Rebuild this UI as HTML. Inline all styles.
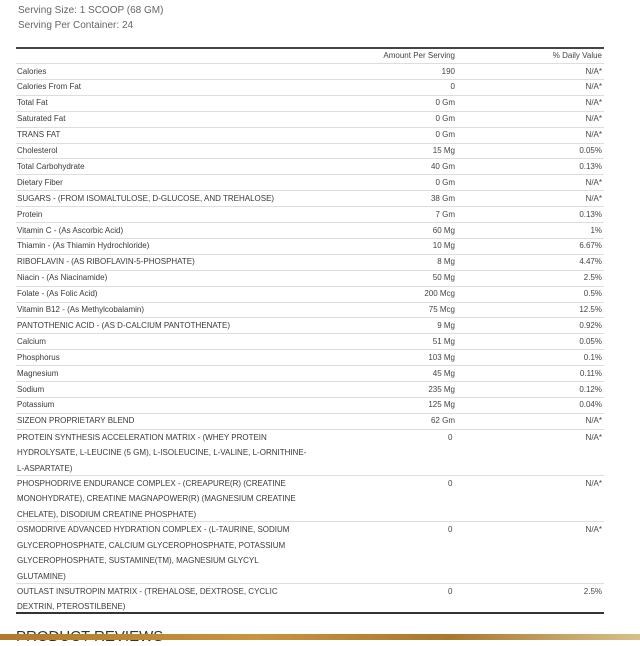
<!DOCTYPE html>
<html><head><meta charset="utf-8"><style>
body{margin:0;width:640px;height:640px;overflow:hidden;background:#fff;font-family:"Liberation Sans",sans-serif;color:#444;position:relative}
.t{position:absolute;font-size:8px;line-height:15.7px;white-space:nowrap}
.l{left:17px;color:#3a3a3a}
.a{right:185px;text-align:right}
.d{right:38px;text-align:right}
.hr{position:absolute;left:16px;width:588px;height:1px;background:#ddd}
</style></head><body>
<div class="t" style="left:18px;top:3px;font-size:10px;color:#666">Serving Size: 1 SCOOP (68 GM)</div>
<div class="t" style="left:18px;top:18px;font-size:10px;color:#666">Serving Per Container: 24</div>
<div style="position:absolute;left:16px;top:47px;width:588px;height:2px;background:#444"></div>
<div class="t a" style="top:48px">Amount Per Serving</div>
<div class="t d" style="top:48px">% Daily Value</div>
<div id="rows"></div>
<div style="position:absolute;left:16px;top:612px;width:588px;height:1.5px;background:#333"></div>
<div class="t" style="left:16px;top:628px;font-size:15px;line-height:18px;color:#333">PRODUCT REVIEWS</div>
<div style="position:absolute;left:0;top:634px;width:640px;height:6px;background:linear-gradient(90deg,#b07a2a,#c89440 40%,#a8782e 70%,#d8c08a)"></div>
<script>
var r=[["Calories","190","N/A*"],["Calories From Fat","0","N/A*"],["Total Fat","0 Gm","N/A*"],["Saturated Fat","0 Gm","N/A*"],["TRANS FAT","0 Gm","N/A*"],["Cholesterol","15 Mg","0.05%"],["Total Carbohydrate","40 Gm","0.13%"],["Dietary Fiber","0 Gm","N/A*"],["SUGARS  - (FROM ISOMALTULOSE, D-GLUCOSE, AND TREHALOSE)","38 Gm","N/A*"],["Protein","7 Gm","0.13%"],["Vitamin C  - (As Ascorbic Acid)","60 Mg","1%"],["Thiamin  - (As Thiamin Hydrochloride)","10 Mg","6.67%"],["RIBOFLAVIN  - (AS RIBOFLAVIN-5-PHOSPHATE)","8 Mg","4.47%"],["Niacin  - (As Niacinamide)","50 Mg","2.5%"],["Folate  - (As Folic Acid)","200 Mcg","0.5%"],["Vitamin B12  - (As Methylcobalamin)","75 Mcg","12.5%"],["PANTOTHENIC ACID  - (AS D-CALCIUM PANTOTHENATE)","9 Mg","0.92%"],["Calcium","51 Mg","0.05%"],["Phosphorus","103 Mg","0.1%"],["Magnesium","45 Mg","0.11%"],["Sodium","235 Mg","0.12%"],["Potassium","125 Mg","0.04%"],["SIZEON PROPRIETARY BLEND","62 Gm","N/A*"]];
var m=[[["PROTEIN SYNTHESIS ACCELERATION MATRIX  - (WHEY PROTEIN","HYDROLYSATE, L-LEUCINE (5 GM), L-ISOLEUCINE, L-VALINE, L-ORNITHINE-","L-ASPARTATE)"],"0","N/A*"],[["PHOSPHODRIVE ENDURANCE COMPLEX  - (CREAPURE(R) (CREATINE","MONOHYDRATE), CREATINE MAGNAPOWER(R) (MAGNESIUM CREATINE","CHELATE), DISODIUM CREATINE PHOSPHATE)"],"0","N/A*"],[["OSMODRIVE ADVANCED HYDRATION COMPLEX  - (L-TAURINE, SODIUM","GLYCEROPHOSPHATE, CALCIUM GLYCEROPHOSPHATE, POTASSIUM","GLYCEROPHOSPHATE, SUSTAMINE(TM), MAGNESIUM GLYCYL","GLUTAMINE)"],"0","N/A*"],[["OUTLAST INSUTROPIN MATRIX  - (TREHALOSE, DEXTROSE, CYCLIC","DEXTRIN, PTEROSTILBENE)"],"0","2.5%"]];
var h="";
r.forEach(function(x,i){var y=63+15.9*i;h+='<div class="hr" style="top:'+Math.round(y)+'px"></div><div class="t l" style="top:'+(y+0.5)+'px">'+x[0]+'</div><div class="t a" style="top:'+(y+0.5)+'px">'+x[1]+'</div><div class="t d" style="top:'+(y+0.5)+'px">'+x[2]+'</div>';});
var y=429;
m.forEach(function(x){h+='<div class="hr" style="top:'+Math.round(y)+'px"></div><div class="t l" style="top:'+(y+0.5)+'px">'+x[0].join('<br>')+'</div><div class="t" style="left:448px;top:'+(y+0.5)+'px">'+x[1]+'</div><div class="t d" style="top:'+(y+0.5)+'px">'+x[2]+'</div>';y+=15.4*x[0].length;});
document.getElementById('rows').innerHTML=h;
</script>
</body></html>
